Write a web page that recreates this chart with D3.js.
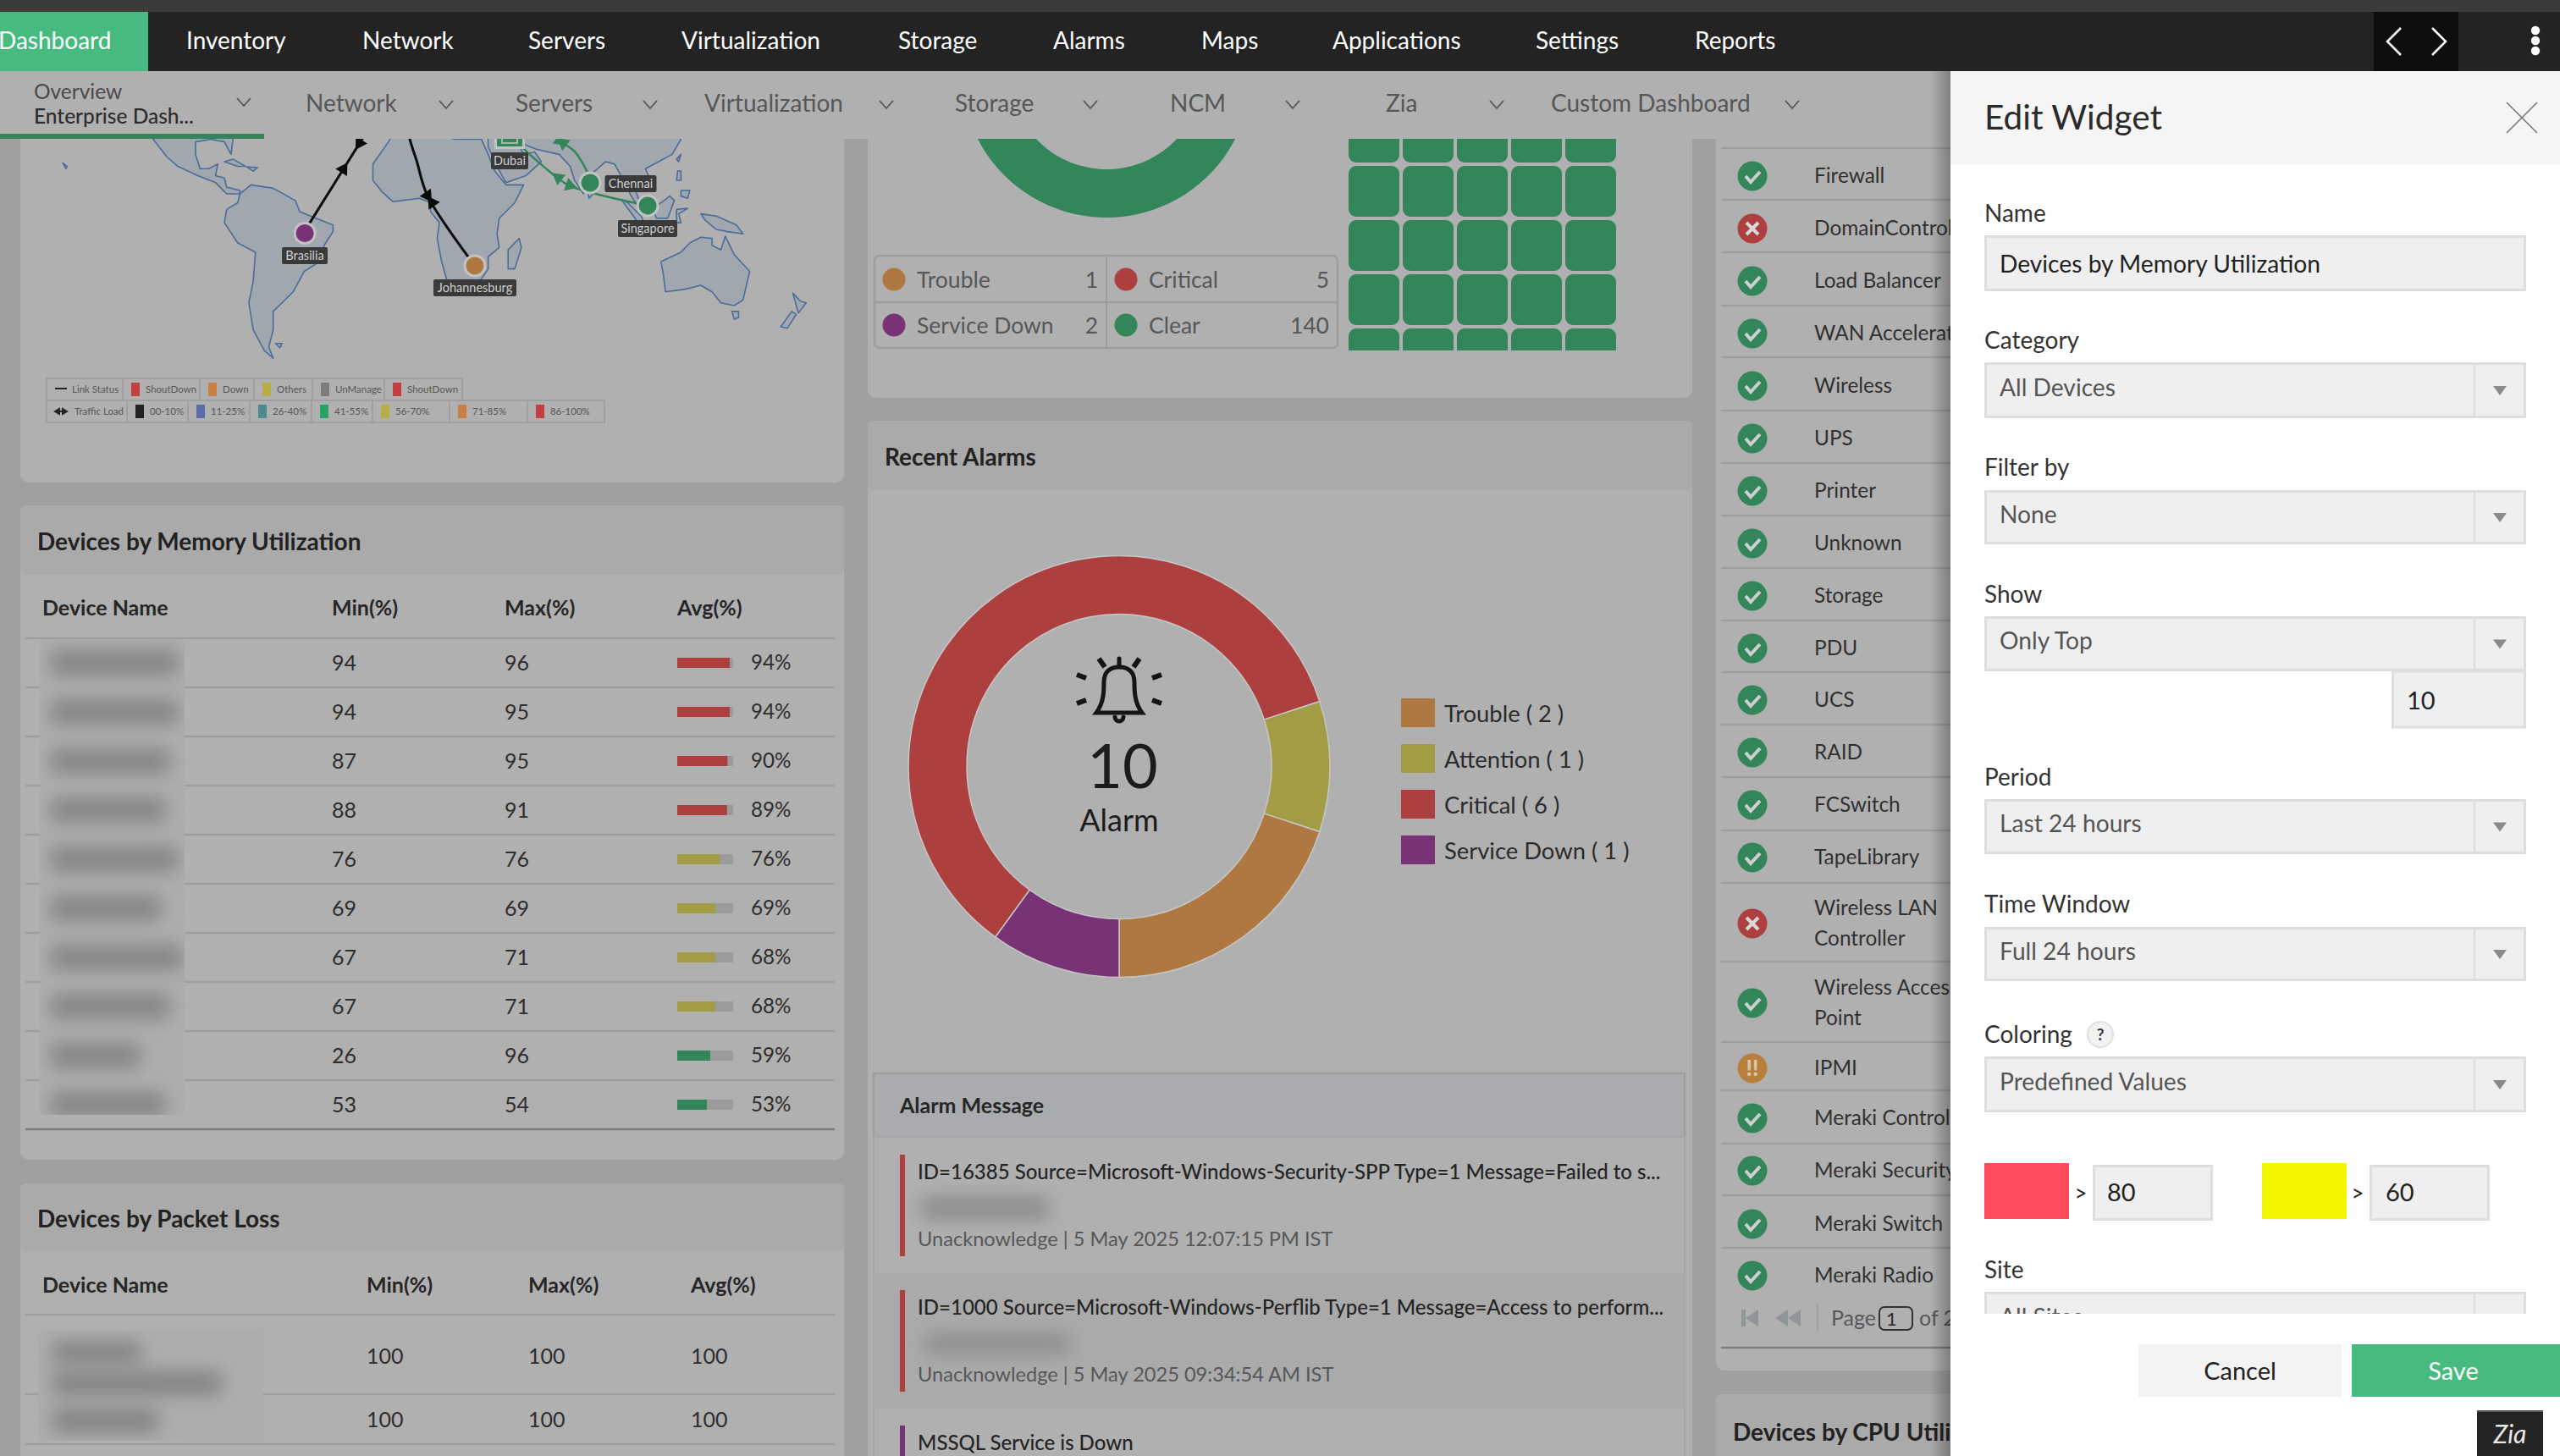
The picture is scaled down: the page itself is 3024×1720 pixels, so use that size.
<!DOCTYPE html>
<html><head><meta charset="utf-8">
<script src="https://d3js.org/d3.v7.min.js"></script>
<style>html,body{margin:0;padding:0;background:#a0a0a0;overflow:hidden}svg{display:block}text{font-family:Lato,"Open Sans",sans-serif}</style>
</head><body><svg id="c" width="3024" height="1720"></svg>
<script>
// ---------- DATA ----------
const navItems=["Dashboard","Inventory","Network","Servers","Virtualization","Storage","Alarms","Maps","Applications","Settings","Reports"];
const subItems=["Network","Servers","Virtualization","Storage","NCM","Zia","Custom Dashboard"];
const memMin=[94,94,87,88,76,69,67,67,26,53];
const memMax=[96,95,95,91,76,69,71,71,96,54];
const memAvg=[94,94,90,89,76,69,68,68,59,53];
const memCols=["Device Name","Min(%)","Max(%)","Avg(%)"];
const lossCols=["Device Name","Min(%)","Max(%)","Avg(%)"];
const lossMin=[100,100], lossMax=[100,100], lossAvg=[100,100];
const statusLabels=["Trouble","Critical","Service Down","Clear"];
const statusCounts=[1,5,2,140];
const alarmLabels=["Trouble","Attention","Critical","Service Down"];
const alarmCounts=[2,1,6,1];
const alarmPieOrder=["Attention","Trouble","Service Down","Critical"];
const alarmTitles=["ID=16385 Source=Microsoft-Windows-Security-SPP Type=1 Message=Failed to s...","ID=1000 Source=Microsoft-Windows-Perflib Type=1 Message=Access to perform...","MSSQL Service is Down"];
const alarmMeta=["Unacknowledge | 5 May 2025 12:07:15 PM IST","Unacknowledge | 5 May 2025 09:34:54 AM IST"];
const alarmSeverity=["Critical","Critical","Service Down"];
const catNames=["Firewall","DomainController","Load Balancer","WAN Accelerator","Wireless","UPS","Printer","Unknown","Storage","PDU","UCS","RAID","FCSwitch","TapeLibrary","Wireless LAN|Controller","Wireless Access|Point","IPMI","Meraki Controller","Meraki Security","Meraki Switch","Meraki Radio"];
const catStatus=["ok","bad","ok","ok","ok","ok","ok","ok","ok","ok","ok","ok","ok","ok","bad","ok","warn","ok","ok","ok","ok"];
const legendLink=["ShoutDown","Down","Others","UnManage","ShoutDown"];
const legendLoad=["00-10%","11-25%","26-40%","41-55%","56-70%","71-85%","86-100%"];
const cities=[{n:"Brasilia",c:[-47.7,-9.7],s:"Service Down"},{n:"Johannesburg",c:[29,-23.7],s:"Trouble"},{n:"Chennai",c:[81,12.9],s:"Clear"},{n:"Singapore",c:[107,2.7],s:"Clear"}];
const blackLinks=[[[-47,-7.5],[-13.7,41.6]],[[29,-23.7],[7.6,7.2],[2.7,22.5],[-0.4,31.2],[-2.7,41.6]]];
const greenLinks=[[[107,2.7],[82.1,8.4],[70.7,12.1],[59.2,20.6],[50.8,27.5]],[[81,15],[74.5,25.7],[66.5,31.1],[59.2,38.7]]];
const land=[
[[-77,8],[-72,12],[-62,10.5],[-52,5],[-50,0],[-44,-2.5],[-35,-6],[-35,-9],[-39,-15],[-41,-22],[-48,-26],[-53,-34],[-58,-38],[-62,-41],[-62,-47],[-64,-52],[-62,-55],[-66,-53],[-71,-47],[-73,-38],[-71,-30],[-70,-18],[-78,-14],[-84,-5],[-83,1],[-78,4]],
[[-117,32],[-110,24],[-105,20],[-96,16],[-88,13],[-83,8],[-77,8],[-77,9.5],[-83,11],[-84,15],[-88,16],[-87,21],[-91,19],[-95,19],[-97,25],[-97,30],[-90,31],[-84,30],[-81,25],[-80,32],[-78,42],[-117,42]],
[[-6,36],[10,37],[11,33],[20,31],[32,31],[35,25],[38,18],[43,12],[51,12],[47,4],[40,-3],[39,-10],[40,-16],[35,-20],[35,-25],[32,-29],[26,-34],[18,-34.5],[14,-22],[12,-12],[13,-5],[9,0],[9,4],[4,6],[-4,5],[-8,4.5],[-13,9],[-17,14],[-17,21],[-10,30]],
[[35,42],[35,31],[35,28],[39,20],[43,13],[52,16],[59,22],[56,26],[51,25],[48,30],[57,27],[67,25],[72,20],[74,14],[78,8],[80,13],[82,17],[88,22],[92,21],[95,16],[98,12],[99,8],[103,1.5],[104,3],[100,13],[103,12],[106,9],[109,12],[106,19],[110,21],[118,25],[122,31],[125,42]],
[[113,-22],[122,-18],[126,-14],[131,-11.5],[136,-12],[136,-15],[140,-17],[142,-11],[146,-19],[153,-26],[150,-37],[146,-39],[140,-38],[136,-34],[131,-31.5],[124,-33],[115,-34],[114,-27]],
[[145,-41],[148,-41],[148,-43],[146,-43.6]],
[[44,-25],[47,-25],[50,-16],[49,-12],[44,-17]],
[[172.5,-34.5],[176,-37.5],[178.5,-38],[175,-41.5],[174,-39]],
[[172,-41],[174,-42],[170,-46.5],[167,-46]],
[[95,5.5],[98,4],[104,-2],[106,-6],[102,-4]],
[[105,-6.5],[114,-7.5],[114,-8.7],[106,-7.8]],
[[109,1.5],[113,4],[117,7],[119,5],[116,-3],[111,-3]],
[[120,1],[125,1.5],[121,-1],[122,-5],[120,-5]],
[[131,-1],[138,-2],[147,-6],[150,-10],[143,-9],[138,-8],[133,-4]],
[[120.5,18],[122,18],[122,14],[120,14]],[[122,9.5],[126,9.5],[125,6],[122,7]],
[[120,23],[122,25],[121,22]],[[80,9.5],[82,7.5],[80.5,6]],
[[-84,22],[-80,23],[-74.5,20],[-78,20]],[[-74,19.8],[-69,19.5],[-71,18]],
[[-61,-51],[-58,-51],[-59,-52.2]],[[-157,21.5],[-155,20],[-155.5,19]]
];
// ---------- COLOURS ----------
const C={pageBg:"#a0a0a0",card:"#b0b0b0",head:"#aaaaaa",green:"#33855a",red:"#ae3f3f",olive:"#a29c44",orange:"#af7840",purple:"#783377",bright:"#47bb7f",ink:"#262626",mute:"#555759",rule:"#9e9e9e"};
const sev={Trouble:C.orange,Attention:C.olive,Critical:C.red,"Service Down":C.purple,Clear:C.green};
const svg=d3.select("#c");
const defs=svg.append("defs");
defs.append("filter").attr("id","blur").attr("x","-30%").attr("y","-100%").attr("width","160%").attr("height","300%").append("feGaussianBlur").attr("stdDeviation",11);
const rc=(id,x,y,w,h)=>defs.append("clipPath").attr("id",id).append("rect").attr("x",x).attr("y",y).attr("width",w).attr("height",h);
rc("clipTiles",1585,0,340,414);rc("clipSite",2340,1500,660,52);rc("clipCol",2027,160,277,1560);rc("clipBlur",47,755,171,562);rc("clipLoss",45,1571,266,131);
const grad=defs.append("linearGradient").attr("id","shade");
grad.append("stop").attr("offset",0).attr("stop-color","#000").attr("stop-opacity",0);
grad.append("stop").attr("offset",1).attr("stop-color","#000").attr("stop-opacity",.28);
const R=(g,x,y,w,h,f,rx)=>g.append("rect").attr("x",x).attr("y",y).attr("width",w).attr("height",h).attr("fill",f).attr("rx",rx||0);
const T=(g,x,y,t,size,fill,weight,anchor)=>g.append("text").attr("x",x).attr("y",y).attr("dy","0.35em").attr("font-size",size).attr("fill",fill||C.ink).attr("font-weight",weight||400).attr("text-anchor",anchor||"start").text(t);
const HL=(g,x1,x2,y,col,w)=>g.append("line").attr("x1",x1).attr("x2",x2).attr("y1",y).attr("y2",y).attr("stroke",col||C.rule).attr("stroke-width",w||2.5);

// ---------- CARDS ----------
const base=svg.append("g");
R(base,0,0,3024,1720,C.pageBg);
function card(x,y,w,h,headH,title,tw){
  R(base,x,y,w,h,C.card,10);
  if(headH){R(base,x,y,w,headH,C.head,6);T(base,x+20,y+headH/2+2,title,tw||28,"#222",700);}
}
card(24,100,973,470);
card(1025,100,974,370);
card(24,597,973,773,82,"Devices by Memory Utilization");
card(24,1398,973,340,80,"Devices by Packet Loss",28);
card(1025,497,974,1240,82,"Recent Alarms");
card(2027,100,300,1519);
card(2027,1647,300,100,86,"Devices by CPU Utilization");

// ---------- MAP ----------
const mapG=base.append("g");
const proj=d3.geoMercator().scale(150).translate([485,250]);
const line=d3.line().x(d=>proj(d)[0]).y(d=>proj(d)[1]);
mapG.selectAll("path.land").data(land).join("path").attr("class","land")
  .attr("d",d=>line(d)+"Z").attr("fill","#a1a7af").attr("stroke","#4a6c9a").attr("stroke-width",1.6).attr("stroke-linejoin","round");
const curve=d3.line().x(d=>proj(d)[0]).y(d=>proj(d)[1]).curve(d3.curveCatmullRom.alpha(.5));
function arrowAt(g,p,q,fill,t){const a=proj(p),b=proj(q),x=a[0]+(b[0]-a[0])*t,y=a[1]+(b[1]-a[1])*t,ang=Math.atan2(b[1]-a[1],b[0]-a[0])*180/Math.PI+90;
  g.append("path").attr("d",d3.symbol(d3.symbolTriangle,110)).attr("transform",`translate(${x},${y}) rotate(${ang})`).attr("fill",fill);}
blackLinks.forEach(l=>mapG.append("path").attr("d",curve(l)).attr("fill","none").attr("stroke","#0b0b0b").attr("stroke-width",3));
greenLinks.forEach(l=>mapG.append("path").attr("d",curve(l)).attr("fill","none").attr("stroke",C.green).attr("stroke-width",2.5));
arrowAt(mapG,blackLinks[0][0],blackLinks[0][1],"#0b0b0b",.50);arrowAt(mapG,blackLinks[0][1],blackLinks[0][0],"#0b0b0b",.28);
arrowAt(mapG,blackLinks[1][0],blackLinks[1][1],"#0b0b0b",.9);arrowAt(mapG,blackLinks[1][1],blackLinks[1][0],"#0b0b0b",.0);
arrowAt(mapG,greenLinks[0][2],greenLinks[0][1],C.green,.1);arrowAt(mapG,greenLinks[0][2],greenLinks[0][3],C.green,.35);
arrowAt(mapG,greenLinks[1][1],greenLinks[1][2],C.green,.7);arrowAt(mapG,greenLinks[1][2],greenLinks[1][1],C.green,.1);
cities.forEach(c=>{const p=proj(c.c);
  mapG.append("circle").attr("cx",p[0]).attr("cy",p[1]).attr("r",13.5).attr("fill","#c3c3c3");
  mapG.append("circle").attr("cx",p[0]).attr("cy",p[1]).attr("r",10.5).attr("fill",sev[c.s]);});
function mapLabel(t,cx,cy,w){R(mapG,cx-w/2,cy-10,w,20,"#3a3a3a",2);T(mapG,cx,cy,t,14.5,"#cfcfcf",400,"middle");}
mapLabel("Brasilia",360,302,54);mapLabel("Johannesburg",561,340,98);mapLabel("Chennai",745,217,61);mapLabel("Singapore",765,270,70);mapLabel("Dubai",602,190,44);
R(mapG,584,150,36,26,"#c3c3c3");R(mapG,587,150,30,23,C.green);R(mapG,593,162,18,7,"none").attr("stroke","#c9c9c9").attr("stroke-width",1.5);
// map legend
function legendRow(y,h,x0,x1,div){
  R(mapG,x0,y,x1-x0,h,"#b0b0b0").attr("stroke","#a0a0a0").attr("stroke-width",2);
  div.forEach(x=>mapG.append("line").attr("x1",x).attr("x2",x).attr("y1",y).attr("y2",y+h).attr("stroke","#a0a0a0").attr("stroke-width",2));
}
const linkDiv=[145,236,300,369,454], loadDiv=[150,222,295,368,440,531,623];
legendRow(447,26,55,546,linkDiv);legendRow(473,26,55,714,loadDiv);
mapG.append("line").attr("x1",65).attr("x2",79).attr("y1",459).attr("y2",459).attr("stroke","#222").attr("stroke-width",2);
T(mapG,85,460,"Link Status",11.5,"#555");
const linkCols=["#c43f3f","#c97f3f","#b5ad45","#7d7d7d","#c43f3f"];
legendLink.forEach((t,i)=>{const x=linkDiv[i];R(mapG,x+10,452,10,16,linkCols[i]);T(mapG,x+27,460,t,11.5,"#555");});
mapG.append("path").attr("d","M65,486H79M65,486l5,-3v6zM79,486l-5,-3v6z").attr("stroke","#222").attr("fill","#222").attr("stroke-width",2);
T(mapG,88,486,"Traffic Load",11.5,"#555");
const loadCols=["#222","#5a6da8","#4d8a8f","#25a364","#b5ad45","#c97f3f","#c43f3f"];
legendLoad.forEach((t,i)=>{const x=loadDiv[i];R(mapG,x+10,478,10,16,loadCols[i]);T(mapG,x+27,486,t,11.5,"#555");});

// ---------- STATUS DONUT, LEGEND, TILES ----------
const topG=base.append("g");
const statusPie=d3.pie().sort(null)(statusCounts);
const statusArc=d3.arc().innerRadius(114).outerRadius(171);
topG.append("g").attr("transform","translate(1307,86)").selectAll("path").data(statusPie).join("path")
  .attr("d",statusArc).attr("fill",(d,i)=>sev[statusLabels[i]]);
R(topG,1033,302,547,109,"none",6).attr("stroke","#9c9c9c").attr("stroke-width",2.5);
HL(topG,1033,1580,357,"#9c9c9c");
topG.append("line").attr("x1",1307).attr("x2",1307).attr("y1",302).attr("y2",411).attr("stroke","#9c9c9c").attr("stroke-width",2);
const legX=d3.scaleOrdinal().domain(statusLabels).range([1056,1330,1056,1330]);
const legY=d3.scaleOrdinal().domain(statusLabels).range([331,331,385,385]);
statusLabels.forEach((s,i)=>{
  topG.append("circle").attr("cx",legX(s)).attr("cy",legY(s)-1).attr("r",13.5).attr("fill",sev[s]);
  T(topG,legX(s)+27,legY(s),s,26.5,C.mute);
  T(topG,legX(s)+(i%2?240:241),legY(s),statusCounts[i],26.5,C.mute,400,"end");
});
const tileX=d3.scaleBand().domain(d3.range(5)).range([1593,1909]).paddingInner(4/64).paddingOuter(0);
const tileY=d3.scaleBand().domain(d3.range(5)).range([132,448]).paddingInner(4/64).paddingOuter(0);
topG.append("g").attr("clip-path","url(#clipTiles)").selectAll("rect").data(d3.cross(d3.range(5),d3.range(5))).join("rect")
  .attr("x",d=>tileX(d[0])).attr("y",d=>tileY(d[1])).attr("width",60).attr("height",60).attr("rx",9).attr("fill",C.green);

// ---------- MEMORY TABLE ----------
const tbl=base.append("g");
const colMem=[50,392,596,800];
memCols.forEach((c,i)=>T(tbl,colMem[i],718,c,25,"#262626",700));
const rowY=d3.scaleLinear().domain([0,10]).range([754,1334]);
d3.range(11).forEach(i=>HL(tbl,30,986,rowY(i),i==10?"#7d7d7d":"#9e9e9e"));
R(tbl,47,755,171,562,"#aeaeae");
const barW=d3.scaleLinear().domain([0,100]).range([0,66]);
const barC=d3.scaleThreshold().domain([60,80]).range([C.green,C.olive,C.red]);
const mem=tbl.selectAll("g.row").data(memAvg).join("g").attr("class","row").attr("transform",(d,i)=>`translate(0,${rowY(i)+29})`);
mem.each(function(d,i){const g=d3.select(this);T(g,392,0,memMin[i],25,"#2d2d2d");T(g,596,0,memMax[i],25,"#2d2d2d");T(g,887,0,d+"%",24.2,"#2d2d2d");});
mem.append("rect").attr("x",800).attr("y",-6).attr("width",barW(100)).attr("height",12).attr("fill","#9b9b9b");
mem.append("rect").attr("x",800).attr("y",-6).attr("width",d=>barW(d)).attr("height",12).attr("fill",d=>barC(d));
const memBlur=tbl.append("g").attr("clip-path","url(#clipBlur)");
memAvg.forEach((d,i)=>R(memBlur,60,rowY(i)+15,[150,150,140,135,150,130,155,140,105,135][i],28,"#828282").attr("filter","url(#blur)"));

// ---------- PACKET LOSS TABLE ----------
const colLoss=[50,433,624,816];
lossCols.forEach((c,i)=>T(tbl,colLoss[i],1518,c,25,"#262626",700));
[1553,1647,1706].forEach(y=>HL(tbl,30,986,y));
R(tbl,45,1571,266,131,"#aeaeae");
const lossBlur=tbl.append("g").attr("clip-path","url(#clipLoss)");
[[62,1585,105,26],[62,1620,200,28],[62,1664,125,28]].forEach(r=>R(lossBlur,r[0],r[1],r[2],r[3],"#828282").attr("filter","url(#blur)"));
[1602,1677].forEach((y,i)=>{T(tbl,433,y,lossMin[i],25,"#2d2d2d");T(tbl,624,y,lossMax[i],25,"#2d2d2d");T(tbl,816,y,lossAvg[i],25,"#2d2d2d");});

// ---------- RECENT ALARMS ----------
const al=base.append("g");
const alarmPie=d3.pie().sort(null).startAngle(0.4*Math.PI).endAngle(2.4*Math.PI)(alarmPieOrder.map(k=>alarmCounts[alarmLabels.indexOf(k)]));
al.append("g").attr("transform","translate(1322,905.5)").selectAll("path").data(alarmPie).join("path")
 .attr("d",d3.arc().innerRadius(180).outerRadius(249)).attr("fill",(d,i)=>sev[alarmPieOrder[i]]).attr("stroke","#c6c6c6").attr("stroke-width",1.5);
const b=al.append("g").attr("transform","translate(1322,816)").attr("fill","none").attr("stroke","#151515").attr("stroke-width",5).attr("stroke-linecap","round");
b.append("path").attr("d","M-27,26 C-18,14 -18,0 -18,-10 C-18,-24 -9,-28 0,-28 C9,-28 18,-24 18,-10 C18,0 18,14 27,26 Z");
b.append("path").attr("d","M0,-30V-38M-5,31a5,5 0 0 0 10,0");
b.append("path").attr("stroke-width",6).attr("stroke-linecap","butt").attr("d","M-24,-38L-17,-28M24,-38L17,-28M-50,-19L-39,-15M50,-19L39,-15M-50,15L-39,11M50,15L39,11");
T(al,1326,906,"10",72,"#1c1c1c",400,"middle");
T(al,1322,969,"Alarm",36,"#1c1c1c",400,"middle");
const alarmLegY=d3.scalePoint().domain(alarmLabels).range([842,1004]);
alarmLabels.forEach((s,i)=>{const y=alarmLegY(s);R(al,1655,y-17,40,34,sev[s]);T(al,1706,y+1,`${s} ( ${alarmCounts[i]} )`,27.4,"#2b2b2b");});
R(al,1032,1268,958,75,"#a9abae").attr("stroke","#9e9e9e").attr("stroke-width",2.5);
al.append("rect").attr("x",1032).attr("y",1343).attr("width",958).attr("height",400).attr("fill","none").attr("stroke","#a6a6a6").attr("stroke-width",2);
T(al,1063,1306,"Alarm Message",25,"#262626",700);
R(al,1032,1504,958,160,"#aaaaaa");
const alarmTop=[1364,1524,1684];
alarmTitles.forEach((t,i)=>{const y=alarmTop[i];
  R(al,1063,y,6,i<2?120:60,sev[alarmSeverity[i]]);
  T(al,1084,y+21,t,24,"#242424",500);
  if(i<2){R(al,1088+i*5,y+50+i*3,150+i*20,i?21:26,"#8a8a8a").attr("filter","url(#blur)");
    T(al,1084,y+100,alarmMeta[i],23.6,C.mute);}
});

// ---------- CATEGORY LIST ----------
const lst=base.append("g").attr("clip-path","url(#clipCol)");
const rowLines=[175,236,298,361,422,485,547,609,671,733,794,856,918,981,1043,1136,1231,1288,1351,1412,1474];
const iconY=[208,270,332,394,456,518,580,642,704,766,827,889,951,1013,1091,1185,1262,1321,1383,1446,1507];
rowLines.forEach(y=>HL(lst,2033,2304,y));
HL(lst,2033,2304,1592,"#7d7d7d");
catNames.forEach((n,i)=>{const y=iconY[i],s=catStatus[i];
  lst.append("circle").attr("cx",2070).attr("cy",y).attr("r",17.5).attr("fill",s=="ok"?C.green:s=="bad"?C.red:"#b97f3f");
  if(s=="ok")lst.append("path").attr("d",`M2062,${y}l6,7l11,-12`).attr("fill","none").attr("stroke","#cfcfcf").attr("stroke-width",4);
  if(s=="bad")lst.append("path").attr("d",`M2063,${y-7}l14,14M2077,${y-7}l-14,14`).attr("fill","none").attr("stroke","#d8d8d8").attr("stroke-width",4);
  if(s=="warn")T(lst,2070,y,"!!",26,"#d8c6ae",900,"middle");
  const parts=n.split("|");
  if(parts.length==1)T(lst,2143,y-1,n,24.4,"#303030");
  else{T(lst,2143,y-19,parts[0],24.4,"#303030");T(lst,2143,y+17,parts[1],24.4,"#303030");}
});
lst.append("path").attr("d","M2057,1547h5v20h-5zM2077,1547v20l-15,-10zM2112,1547v20l-15,-10zM2127,1547v20l-15,-10z").attr("fill","#8e9698");
R(lst,2146,1541,2,33,"#a2a2a2");
T(lst,2163,1557,"Page",25,C.mute);
R(lst,2220,1544,39,27,"none",6).attr("stroke","#333").attr("stroke-width",2);
T(lst,2228,1558,"1",22,"#2a2a2a");
T(lst,2267,1557,"of 2",25,C.mute);

// ---------- TOP NAV ----------
const nav=svg.append("g");
R(nav,0,0,3024,14,"#3b3b3b");
R(nav,0,14,3024,70,"#232323");
R(nav,0,14,175,70,C.bright);
const navX=[-2,220,428,624,805,1061,1244,1419,1574,1814,2002];
navItems.forEach((t,i)=>T(nav,navX[i],48,t,28,"#ffffff"));
R(nav,2804,14,100,70,"#0e0e0e");
nav.append("path").attr("d","M2836,33L2820,49L2836,65M2873,33L2889,49L2873,65").attr("fill","none").attr("stroke","#fff").attr("stroke-width",2.5);
[36,48,60].forEach(y=>nav.append("circle").attr("cx",2995).attr("cy",y).attr("r",5.2).attr("fill","#fff"));
R(nav,0,84,2304,80,"#b0b0b0");
R(nav,0,158,312,6,C.green);
T(nav,40,108,"Overview",24.5,"#4a4a4a");
T(nav,40,137,"Enterprise Dash...",24.5,"#2c2c2c",500);
const subX=[361,609,832,1128,1382,1637,1832];
subItems.forEach((t,i)=>T(nav,subX[i],122,t,28,C.mute));
const chevX=[288,527,768,1047,1288,1527,1768,2117];
chevX.forEach((x,i)=>nav.append("path").attr("d",`M${x-8},${i?119:116}l8,9l8,-9`).attr("fill","none").attr("stroke","#555").attr("stroke-width",1.8));

// ---------- EDIT PANEL ----------
const pn=svg.append("g");
R(pn,2280,84,24,1636,"url(#shade)");
R(pn,2304,84,720,1636,"#ffffff");
R(pn,2304,84,720,110,"#f5f5f5");
T(pn,2344,139,"Edit Widget",40.5,"#2b2b2b");
pn.append("path").attr("d","M2961,121L2997,157M2997,121L2961,157").attr("stroke","#777").attr("stroke-width",1.6);
function field(label,ly,t,bt,val,col){
  T(pn,2344,ly,label,28,"#333");
  R(pn,2345.5,t+1.5,637,bt-t-3,"#efefef").attr("stroke","#dedede").attr("stroke-width",3);
  T(pn,2362,(t+bt)/2+(col?1:-3),val,28.2,col||"#555");
  if(col)return;
  pn.append("line").attr("x1",2923).attr("x2",2923).attr("y1",t).attr("y2",bt).attr("stroke","#dedede").attr("stroke-width",2.5);
  const c=(t+bt)/2;
  pn.append("path").attr("d",`M2945,${c-5}h16l-8,11z`).attr("fill","#8a8a8a");
}
field("Name",252,278,344,"Devices by Memory Utilization","#222");
field("Category",402,428,494,"All Devices");
field("Filter by",552,579,643,"None");
field("Show",702,728,793,"Only Top");
R(pn,2826.5,793,156,66,"#efefef").attr("stroke","#dedede").attr("stroke-width",3);
T(pn,2843,828,"10",29,"#222");
field("Period",918,944,1009,"Last 24 hours");
field("Time Window",1068,1095,1159,"Full 24 hours");
field("Coloring",1222,1248,1314,"Predefined Values");
pn.append("circle").attr("cx",2481).attr("cy",1222).attr("r",15).attr("fill","#f2f2f2").attr("stroke","#e0e0e0").attr("stroke-width",2);
T(pn,2481,1222,"?",19,"#333",700,"middle");
R(pn,2344,1374,100,66,"#ff4b5c");
T(pn,2458,1410,">",26,"#222",400,"middle");
R(pn,2473.5,1377.5,139,63,"#efefef").attr("stroke","#dedede").attr("stroke-width",3);
T(pn,2489,1409,"80",29,"#222");
R(pn,2672,1374,100,66,"#f6f600");
T(pn,2785,1410,">",26,"#222",400,"middle");
R(pn,2800.5,1377.5,139,63,"#efefef").attr("stroke","#dedede").attr("stroke-width",3);
T(pn,2818,1409,"60",29,"#222");
T(pn,2344,1500,"Site",28,"#333");
const site=pn.append("g").attr("clip-path","url(#clipSite)");
R(site,2345.5,1527.5,637,63,"#efefef").attr("stroke","#dedede").attr("stroke-width",3);
site.append("line").attr("x1",2923).attr("x2",2923).attr("y1",1526).attr("y2",1592).attr("stroke","#dedede").attr("stroke-width",2.5);
T(site,2362,1556,"All Sites",28.2,"#555");
R(pn,2526,1588,240,62,"#f3f3f3");
T(pn,2646,1620,"Cancel",29,"#222",400,"middle");
R(pn,2778,1588,246,62,C.bright);
T(pn,2898,1620,"Save",29,"#fff",400,"middle");
R(pn,2926,1666,78,54,"#242424");
R(pn,2926,1666,78,2,"#555");
pn.append("text").attr("x",2965).attr("y",1705).attr("text-anchor","middle").attr("font-size",30).attr("font-style","italic").attr("fill","#e8e8e8").text("Zia");
</script></body></html>
